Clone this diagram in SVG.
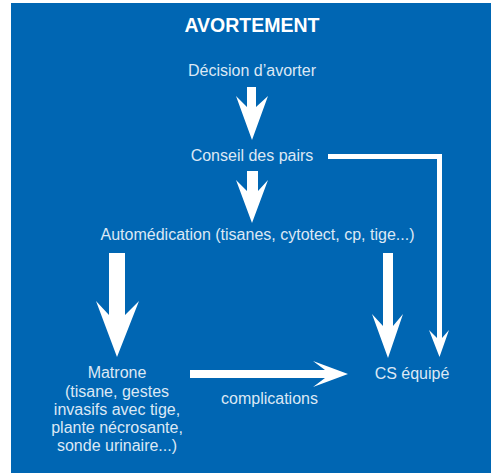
<svg xmlns="http://www.w3.org/2000/svg" width="491" height="473" viewBox="0 0 491 473">
<style>
.t{font-family:"Liberation Sans",Arial,sans-serif;font-size:16px;fill:#dce8f5;text-anchor:middle}
.h{font-family:"Liberation Sans",Arial,sans-serif;font-size:19.5px;font-weight:bold;fill:#ffffff;text-anchor:middle}
.a{fill:#ffffff}
</style>
<rect x="0" y="0" width="491" height="473" fill="#ffffff"/>
<rect x="11" y="3" width="480" height="470" fill="#0066b3"/>
<text class="h" x="252" y="32">AVORTEMENT</text>
<g id="decision"><text class="t" x="252" y="76">Décision d’avorter</text></g>
<g id="conseil"><text class="t" x="252" y="161">Conseil des pairs</text></g>
<g id="automedication"><text class="t" x="257.5" y="240">Automédication (tisanes, cytotect, cp, tige...)</text></g>
<g id="matrone">
<text class="t" x="117" y="378">Matrone</text>
<text class="t" x="117" y="397">(tisane, gestes</text>
<text class="t" x="117" y="415">invasifs avec tige,</text>
<text class="t" x="117" y="433">plante nécrosante,</text>
<text class="t" x="117" y="451">sonde urinaire...)</text>
</g>
<g id="cs"><text class="t" x="412" y="379">CS équipé</text></g>
<g id="connectors">
<polygon class="a" points="247,87 256,87 256,107 268,96 252,140 236,96 247,107"/>
<polygon class="a" points="247,171 258,171 258,191 268,180 252,223 236,180 247,191"/>
<polygon class="a" points="109,253 125,253 125,315 139,301 117,357 96,301 109,315"/>
<polygon class="a" points="383,253 393,253 393,326 403,314 388,358 372,314 383,326"/>
<path d="M328,156.5 H439.5 V338" fill="none" stroke="#ffffff" stroke-width="5"/>
<polygon class="a" points="437,338 442,338 449,330 439.5,357 429,330"/>
<polygon class="a" points="190,370 325,370 313,361 348,374 313,387 325,378 190,378"/>
<text class="t" x="269.5" y="404">complications</text>
</g>
</svg>
